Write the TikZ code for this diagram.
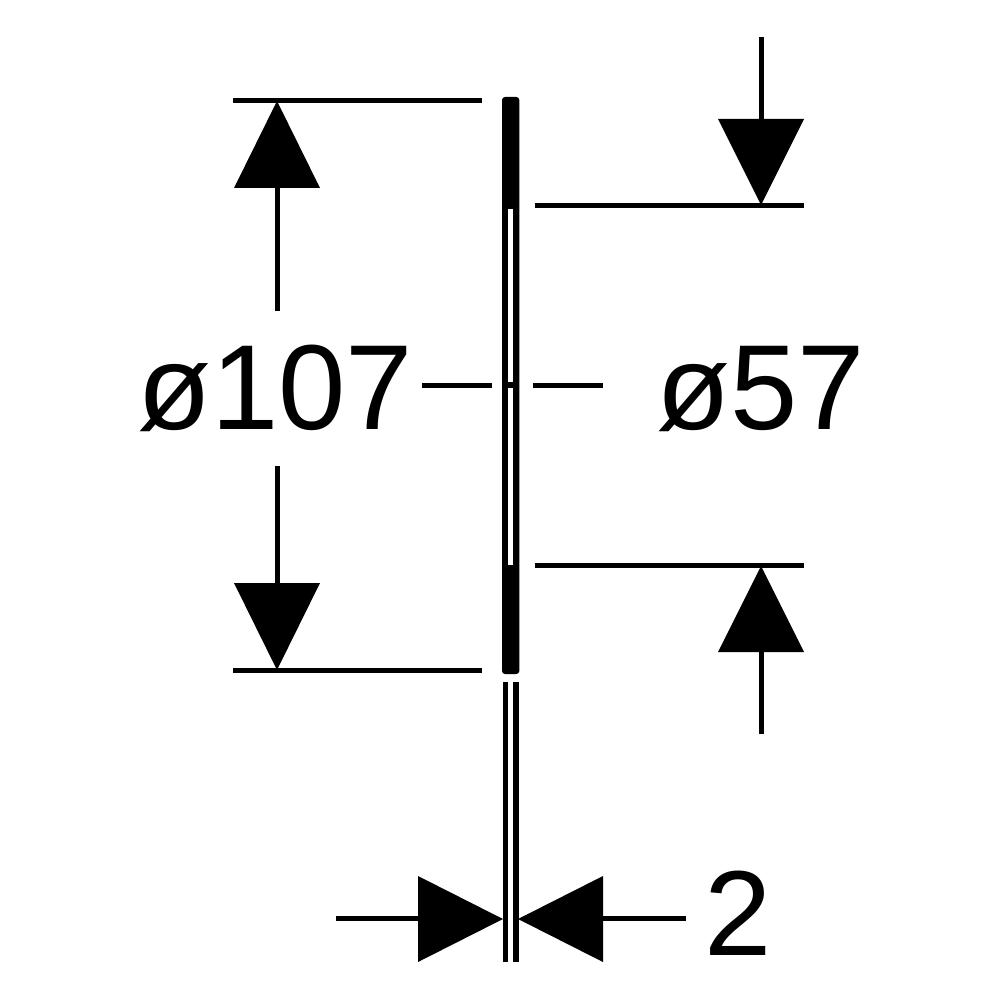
\documentclass[tikz,border=0pt]{standalone}
\usepackage{fontspec}
\setmainfont{Liberation Sans}
\tikzset{
  dimline/.style={line width=5pt,black,line cap=butt},
  tip/.style={fill=black,draw=none},
  label/.style={inner sep=0pt,anchor=base,font=\fontsize{121}{121}\selectfont}
}
\begin{document}
\begin{tikzpicture}[x=1pt,y=-1pt]
\useasboundingbox (0,0) rectangle (1000,1000);
% plate
\fill[rounded corners=3pt] (502,97) rectangle (519.3,674);
\fill[white] (508.3,209) rectangle (513.2,382);
\fill[white] (508.3,388) rectangle (513.2,565);
% plate edge view
\fill (502.7,682) rectangle (508,962);
\fill (513.2,682) rectangle (518.7,962);
% left dimension
\draw[dimline] (233,100.5) -- (482,100.5);
\draw[dimline] (233,670) -- (482,670);
\fill[tip] (277,101) -- (320,188) -- (234,188) -- cycle;
\fill[tip] (277,670) -- (320,583) -- (234,583) -- cycle;
\draw[dimline] (277,187) -- (277,311);
\draw[dimline] (277,466) -- (277,584);
% right dimension
\draw[dimline] (535,205.5) -- (804,205.5);
\draw[dimline] (535,565) -- (804,565);
\fill[tip] (761,205) -- (804,119) -- (718,119) -- cycle;
\fill[tip] (761,566) -- (804,652) -- (718,652) -- cycle;
\draw[dimline] (761,37) -- (761,120);
\draw[dimline] (761,651) -- (761,734);
% centre line
\draw[dimline] (422,385) -- (492,385);
\draw[dimline] (533,385) -- (603,385);
% thickness dimension
\fill[tip] (503,919) -- (418,876) -- (418,962) -- cycle;
\fill[tip] (518,919) -- (603,876) -- (603,962) -- cycle;
\draw[dimline] (336,918.5) -- (419,918.5);
\draw[dimline] (602,918.5) -- (686,918.5);
% labels
\node[label] (d107) at (275,429.5) {ø107};
\node[label] (d57) at (761,429.5) {ø57};
\node[label] (t2) at (738,955) {2};
\end{tikzpicture}
\end{document}
